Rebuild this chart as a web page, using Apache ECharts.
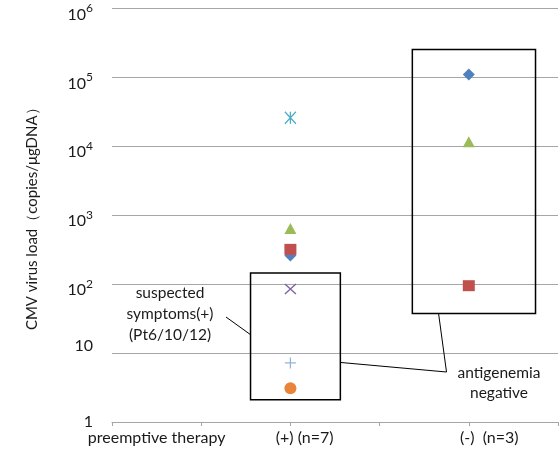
<!DOCTYPE html>
<html><head><meta charset="utf-8">
<script src="https://cdn.jsdelivr.net/npm/echarts@6/dist/echarts.min.js"></script>
<style>html,body{margin:0;padding:0;background:#fff}#c{width:560px;height:452px}</style>
</head><body><div id="c"></div>
<script>
// ---- data ----
const categoryLabels = ['preemptive therapy', '(+) (n=7)', '(-)  (n=3)'];
const groupX = [2, 4];               // x positions of the (+) and (-) groups
const diamondVals  = [260, 110000];
const squareVals   = [320, 95];
const triangleVals = [640, 11700];
const crossVals    = [85];
const asteriskVals = [26000];
const plusVals     = [7.2];
const circleVals   = [3.1];

const FONT = 'Lato, "Liberation Sans", sans-serif';
function pts(vals) { return vals.map((v, i) => [groupX[i], v]); }

const chart = echarts.init(document.getElementById('c'), null, {renderer: 'canvas'});
const gray = '#a6a6a6';
const ink = '#1a1a1a';

const option = {
  animation: false,
  backgroundColor: '#fff',
  textStyle: {fontFamily: FONT},
  grid: {left: 112, right: 2, top: 8.5, bottom: 30, containLabel: false},
  xAxis: {
    type: 'value', min: 0, max: 5, interval: 1,
    axisLine: {show: true, lineStyle: {color: gray, width: 1}},
    axisTick: {show: true, length: 4, lineStyle: {color: gray}},
    splitLine: {show: false},
    axisLabel: {
      show: true, customValues: [0.5, 2.16, 4.23], margin: 8,
      fontFamily: FONT, fontSize: 16, color: ink,
      formatter: function (v) {
        if (Math.abs(v - 0.5) < 0.01) return categoryLabels[0];
        if (Math.abs(v - 2.16) < 0.01) return categoryLabels[1];
        return categoryLabels[2];
      }
    }
  },
  yAxis: {
    type: 'log', logBase: 10, min: 1, max: 1e6,
    name: 'CMV virus load（copies/μgDNA）', nameLocation: 'middle', nameGap: 72, nameRotate: 90,
    nameTextStyle: {fontFamily: FONT, fontSize: 15, color: ink},
    axisLine: {show: false}, axisTick: {show: false},
    splitLine: {show: true, lineStyle: {color: gray, width: 1}},
    axisLabel: {
      margin: 19, fontFamily: FONT, fontSize: 16, color: ink,
      formatter: function (v) {
        const e = Math.round(Math.log10(v));
        if (e === 0) return '1';
        if (e === 1) return '{bu|10}';
        return '{bd|10}{s|' + e + '}';
      },
      rich: {
        bu: {fontSize: 16, fontFamily: FONT, color: ink, padding: [0, 0, 14, 0]},
        bd: {fontSize: 16, fontFamily: FONT, color: ink, padding: [12, 0, 0, 0]},
        s: {fontSize: 12, fontFamily: FONT, color: ink}
      }
    }
  },
  series: [
    {name: 'diamond', type: 'scatter', symbol: 'diamond', symbolSize: [12, 12], z: 2,
      itemStyle: {color: '#4F81BD', opacity: 1}, data: pts(diamondVals),
      markArea: {silent: true, itemStyle: {color: 'rgba(0,0,0,0)', borderColor: '#000', borderWidth: 1.5, opacity: 1},
        data: [
          [{coord: [1.553, 2.1]}, {coord: [2.56, 145]}],
          [{coord: [3.367, 37.6]}, {coord: [4.748, 255000]}]
        ]}},
    {name: 'square', type: 'scatter', symbol: 'rect', symbolSize: [12, 11], z: 3,
      itemStyle: {color: '#C0504D', opacity: 1}, data: pts(squareVals)},
    {name: 'triangle', type: 'scatter', symbol: 'triangle', symbolSize: [12, 11], z: 3,
      itemStyle: {color: '#9BBB59', opacity: 1}, data: pts(triangleVals)},
    {name: 'cross', type: 'scatter', symbol: 'path://M0,0L10,10M10,0L0,10', symbolSize: [11, 10], z: 3,
      itemStyle: {color: 'rgba(0,0,0,0)', borderColor: '#8064A2', borderWidth: 1.3, opacity: 1}, data: pts(crossVals)},
    {name: 'asterisk', type: 'scatter', symbol: 'path://M0,0L10,10M10,0L0,10M5,0L5,10', symbolSize: [11, 12], z: 3,
      itemStyle: {color: 'rgba(0,0,0,0)', borderColor: '#4BACC6', borderWidth: 1.3, opacity: 1}, data: pts(asteriskVals)},
    {name: 'plus', type: 'scatter', symbol: 'path://M5,0L5,10M0,5L10,5', symbolSize: [11, 11], z: 3,
      itemStyle: {color: 'rgba(0,0,0,0)', borderColor: '#95B3D7', borderWidth: 1.3, opacity: 1}, data: pts(plusVals)},
    {name: 'circle', type: 'scatter', symbol: 'circle', symbolSize: 12, z: 3,
      itemStyle: {color: '#E8853A', opacity: 1}, data: pts(circleVals)}
  ],
  graphic: [
    {type: 'text', x: 170, y: 314, z: 10,
      style: {text: 'suspected\nsymptoms(+)\n(Pt6/10/12)', fill: ink, font: '15.5px ' + FONT,
        align: 'center', verticalAlign: 'middle', lineHeight: 21}},
    {type: 'text', x: 499, y: 383, z: 10,
      style: {text: 'antigenemia\nnegative', fill: ink, font: '15.5px ' + FONT,
        align: 'center', verticalAlign: 'middle', lineHeight: 20}},
    {type: 'line', z: 10, shape: {x1: 226, y1: 317, x2: 251, y2: 335}, style: {stroke: '#000', lineWidth: 1}},
    {type: 'polyline', z: 10, shape: {points: [[341, 362.5], [446.5, 372], [438.5, 313]]}, style: {stroke: '#000', lineWidth: 1, fill: null}}
  ]
};
chart.setOption(option);
</script>
</body></html>
